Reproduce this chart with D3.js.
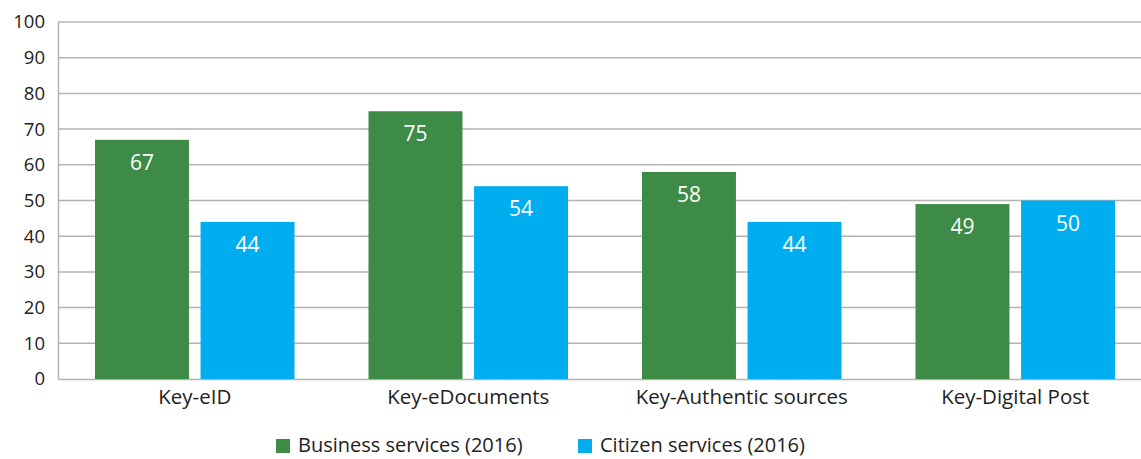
<!DOCTYPE html>
<html><head><meta charset="utf-8">
<script src="https://cdn.jsdelivr.net/npm/d3@7"></script>
<style>body{margin:0;background:#fff}svg{display:block;font-family:"Open Sans",sans-serif}</style>
</head><body><svg id="c" width="1141" height="459"></svg>
<script>
const categories = ["Key-eID","Key-eDocuments","Key-Authentic sources","Key-Digital Post"];
const seriesNames = ["Business services (2016)","Citizen services (2016)"];
const business = [67,75,58,49];
const citizen = [44,54,44,50];
const yTicks = [0,10,20,30,40,50,60,70,80,90,100];
const colors = ["#3d8b46","#00aeef"];

const svg = d3.select("#c");
const L=58, R=1152, T=22, B=379;
const x = d3.scaleBand().domain(categories).range([L,R]).paddingInner(0).paddingOuter(0);
const x1 = d3.scaleBand().domain([0,1]).range([37, x.bandwidth()-37]).paddingInner(0.11);
const y = d3.scaleLinear().domain([0,100]).range([B,T]);

// grid
svg.append("g").selectAll("line").data(yTicks.filter(d=>d>0)).join("line")
  .attr("x1",L).attr("x2",1141).attr("y1",d=>y(d)).attr("y2",d=>y(d))
  .attr("stroke","#b3b3b3").attr("stroke-width",1.5);

const yAxis = svg.append("g").attr("transform",`translate(${L},0)`)
  .call(d3.axisLeft(y).tickValues(yTicks).tickSize(0).tickPadding(13));
yAxis.select(".domain").attr("stroke","#b3b3b3").attr("stroke-width",1.5);
yAxis.selectAll("text").attr("font-size",18.5).attr("fill","#222").attr("font-family","Open Sans, sans-serif");

const xAxis = svg.append("g").attr("transform",`translate(0,${B})`)
  .call(d3.axisBottom(x).tickSize(0).tickPadding(10));
xAxis.select(".domain").attr("stroke","#b3b3b3").attr("stroke-width",1.5);
xAxis.selectAll("text").attr("font-size",20.5).attr("fill","#222").attr("font-family","Open Sans, sans-serif");

const data = categories.map((c,i)=>({c, vals:[business[i],citizen[i]]}));
const g = svg.append("g").selectAll("g").data(data).join("g")
  .attr("transform",d=>`translate(${x(d.c)},0)`);
g.selectAll("rect").data(d=>d.vals.map((v,k)=>({v,k}))).join("rect")
  .attr("x",d=>x1(d.k)).attr("width",x1.bandwidth())
  .attr("y",d=>y(d.v)).attr("height",d=>B-y(d.v)).attr("fill",d=>colors[d.k]);
g.selectAll("text").data(d=>d.vals.map((v,k)=>({v,k}))).join("text")
  .attr("x",d=>x1(d.k)+x1.bandwidth()/2).attr("y",d=>y(d.v)+30)
  .attr("text-anchor","middle").attr("fill","#fff").attr("font-size",21).text(d=>d.v);

// legend
const leg = svg.append("g");
const lx=[276,578];
seriesNames.forEach((s,i)=>{
  leg.append("rect").attr("x",lx[i]).attr("y",439).attr("width",14).attr("height",14).attr("fill",colors[i]);
  leg.append("text").attr("x",lx[i]+22).attr("y",452).attr("font-size",20).attr("fill","#222").text(s);
});
</script></body></html>
